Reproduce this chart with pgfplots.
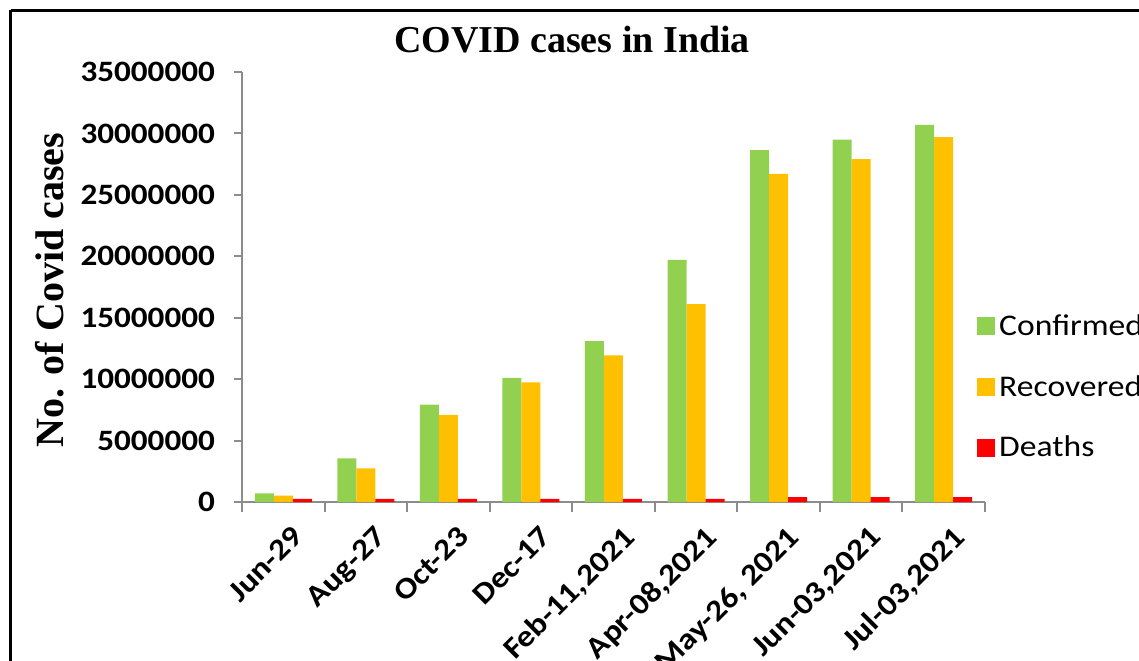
\documentclass[border=0pt]{standalone}
\usepackage{pgfplots}
\pgfplotsset{compat=1.18}
\usepackage{fontspec}
\setmainfont{Carlito}[FakeStretch=1.12]
\newfontfamily\seriffont{Liberation Serif}
\definecolor{cgreen}{HTML}{92D050}
\definecolor{corange}{HTML}{FFC000}
\definecolor{cred}{HTML}{FF0000}
\definecolor{axgray}{HTML}{8C8C8C}
\begin{document}
\begin{tikzpicture}
\path[use as bounding box] (0pt,0pt) rectangle (569.5pt,330pt);
\clip (0pt,0pt) rectangle (569.5pt,330pt);
\draw[line width=1.5pt] (5.25pt,324.75pt) -- (700pt,324.75pt);
\draw[line width=1.5pt] (5.25pt,324.75pt) -- (5.25pt,-50pt);
\begin{axis}[
  at={(121pt,79pt)}, anchor=south west,
  scale only axis, width=371.5pt, height=215pt,
  ybar=0pt, bar width=9.5pt,
  xmin=-0.5, xmax=8.5, ymin=0, ymax=35000000,
  axis lines=left, axis line style={-, axgray, line width=1pt},
  tick style={axgray, line width=1pt},
  tick align=outside,
  xtick={0,...,8}, major x tick style={draw=none},
  minor xtick={-0.5,0.5,...,8.5}, minor tick length=5pt,
  ytick={0,5000000,...,35000000}, major tick length=4pt,
  yticklabels={0,5000000,10000000,15000000,20000000,25000000,30000000,35000000},
  xticklabels={Jun-29, Aug-27, Oct-23, Dec-17, {Feb-11,2021}, {Apr-08,2021}, {May-26, 2021}, {Jun-03,2021}, {Jul-03,2021}},
  scaled y ticks=false,
  yticklabel style={font=\bfseries\fontsize{14.8}{17}\selectfont, xshift=-6pt},
  xticklabel style={font=\bfseries\fontsize{15}{17}\selectfont, rotate=45, anchor=north east, xshift=1pt, yshift=-4.5pt},
  legend style={at={(0.989,0.267)}, anchor=west, draw=none, fill=none, inner sep=0pt,
    font=\fontsize{15}{17}\selectfont, row sep=14.5pt, legend cell align=left},
  legend image code/.code={\fill[#1,draw=none] (0pt,-4.5pt) rectangle (9pt,4.5pt);},
  clip=false,
]
\addplot[fill=cgreen, draw=none] coordinates {(0,700000) (1,3560000) (2,7920000) (3,10100000) (4,13100000) (5,19700000) (6,28650000) (7,29500000) (8,30700000)};
\addplot[fill=corange, draw=none] coordinates {(0,510000) (1,2740000) (2,7100000) (3,9740000) (4,11940000) (5,16100000) (6,26700000) (7,27900000) (8,29700000)};
\addplot[fill=cred, draw=none] coordinates {(0,250000) (1,250000) (2,250000) (3,250000) (4,250000) (5,250000) (6,400000) (7,400000) (8,400000)};
\legend{Confirmed, Recovered, Deaths}
\end{axis}
\node[font=\seriffont\bfseries\fontsize{19}{22}\selectfont] at (286pt,310pt) {COVID cases in India};
\node[rotate=90, font=\seriffont\bfseries\fontsize{20}{23}\selectfont] at (25pt,185pt) {No. of Covid cases};
\end{tikzpicture}
\end{document}
